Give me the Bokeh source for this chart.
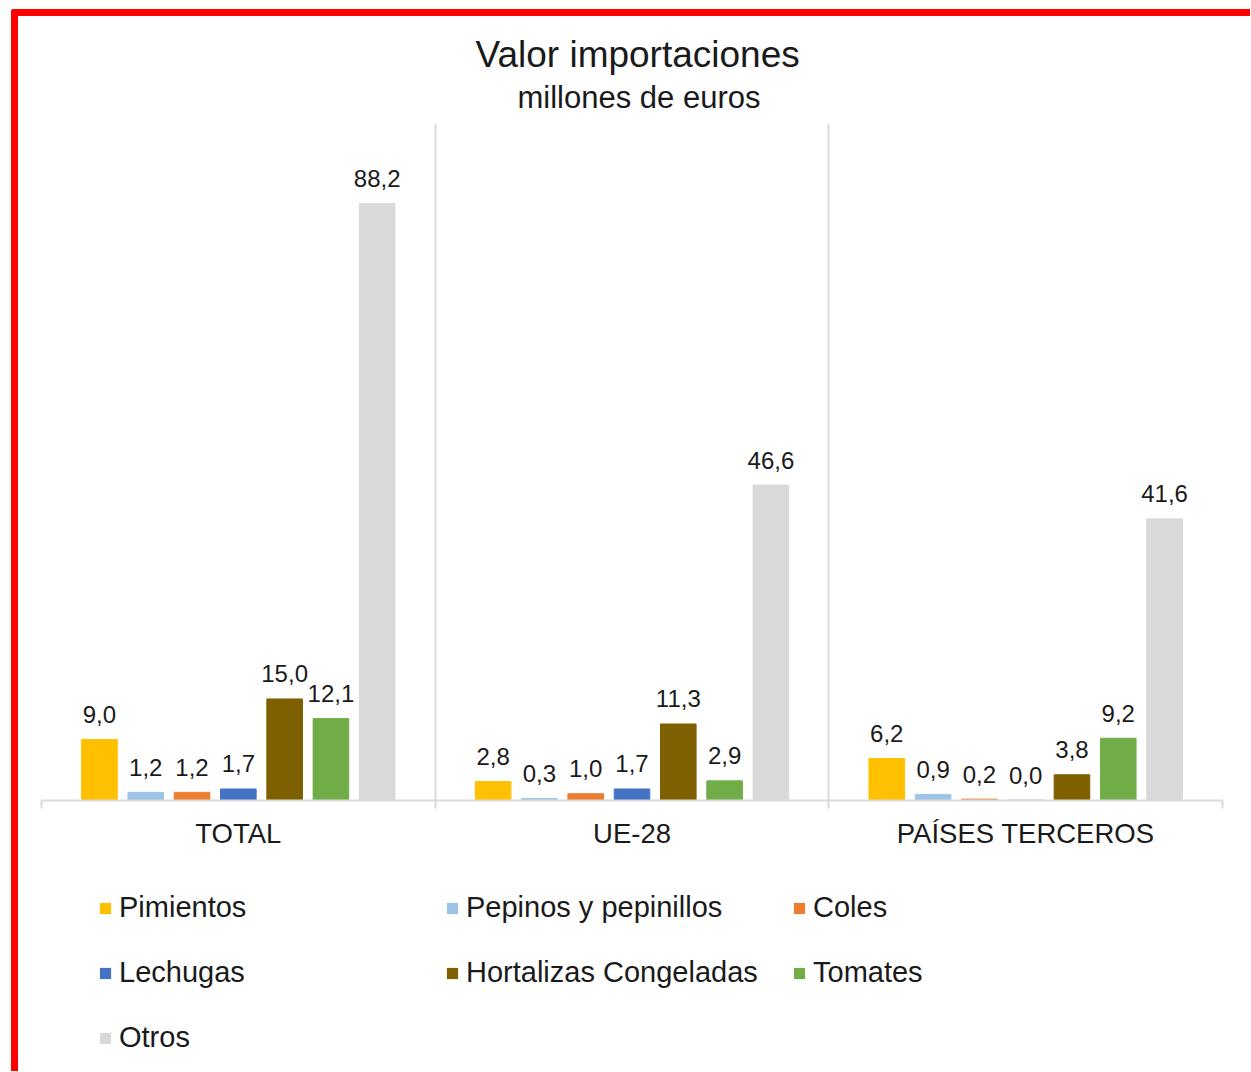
from bokeh.plotting import figure
from bokeh.layouts import column
from bokeh.models import ColumnDataSource, FixedTicker, Legend, LegendItem, Title
from bokeh.transform import dodge
from bokeh.core.properties import value
from bokeh.embed import file_html
from bokeh.resources import INLINE

# ---- data ----
groups = ["TOTAL", "UE-28", "PAÍSES TERCEROS"]
series = ["Pimientos", "Pepinos y pepinillos", "Coles", "Lechugas",
          "Hortalizas Congeladas", "Tomates", "Otros"]
pimientos = [9.0, 2.8, 6.2]
pepinos = [1.2, 0.3, 0.9]
coles = [1.2, 1.0, 0.2]
lechugas = [1.7, 1.7, 0.04]
hortalizas = [15.0, 11.3, 3.8]
tomates = [12.1, 2.9, 9.2]
otros = [88.2, 46.6, 41.6]
colors = ["#FFC000", "#9DC3E6", "#ED7D31", "#4472C4", "#7F6000", "#70AD47", "#D9D9D9"]

values = [pimientos, pepinos, coles, lechugas, hortalizas, tomates, otros]
centers = [i + 0.5 for i in range(len(groups))]
bounds = list(range(len(groups) + 1))

FONT = "Liberation Sans"
TXT = "#1a1a1a"
GRID = "#d9d9d9"

W, H1, H2 = 1232, 854, 201
p = figure(width=W, height=H1, title=None, x_range=(0, 3), y_range=(0, 100),
           output_backend="svg", toolbar_location=None,
           min_border_left=23, min_border_right=28, min_border_top=107,
           min_border_bottom=70)
p.outline_line_color = None
p.background_fill_color = "white"

step = 0.1176
bw = 0.0904
for i, (name, vals, col) in enumerate(zip(series, values, colors)):
    src = ColumnDataSource(dict(x=centers, top=vals,
                                lab=[f"{v:.1f}".replace(".", ",") for v in vals]))
    off = (i - 3) * step
    p.vbar(x=dodge("x", off), top="top", width=bw, bottom=0, source=src,
           fill_color=col, line_color=col, line_width=1)
    p.text(x=dodge("x", off), y="top", text="lab", source=src,
           text_align="center", text_baseline="alphabetic", y_offset=-25,
           text_font=value(FONT), text_font_size="24px", text_color=TXT)

# axes
p.yaxis.visible = False
p.ygrid.visible = False
ax = p.xaxis[0]
ax.ticker = FixedTicker(ticks=centers, minor_ticks=bounds)
ax.major_label_overrides = {c: g for c, g in zip(centers, groups)}
ax.major_tick_line_color = None
ax.minor_tick_line_color = GRID
ax.minor_tick_line_width = 2
ax.minor_tick_out = 8
ax.minor_tick_in = 0
ax.axis_line_color = GRID
ax.axis_line_width = 2
ax.major_label_text_font = FONT
ax.major_label_text_font_size = "27.5px"
ax.major_label_text_color = TXT
ax.major_label_standoff = 9

p.xgrid.ticker = FixedTicker(ticks=bounds)
p.xgrid.grid_line_color = GRID
p.xgrid.grid_line_width = 2

# titles
p.add_layout(Title(text="millones de euros", align="left", offset=476,
                   text_font=FONT, text_font_size="31px", text_font_style="normal",
                   text_color=TXT, standoff=17), "above")
p.add_layout(Title(text="Valor importaciones", align="left", offset=434,
                   text_font=FONT, text_font_size="37px", text_font_style="normal",
                   text_color=TXT, standoff=-11), "above")

# legend panel (swatches come from zero-size renderers)
pl = figure(width=W, height=H2, output_backend="svg", toolbar_location=None,
            x_axis_type=None, y_axis_type=None, min_border=0,
            x_range=(0, 1), y_range=(0, 1))
pl.outline_line_color = None
pl.grid.visible = False
items = []
for name, col in zip(series, colors):
    r = pl.vbar(x=[0.5], top=[0], bottom=0, width=0, fill_color=col, line_color=None)
    items.append(LegendItem(label=name, renderers=[r]))

legend = Legend(items=items, orientation="horizontal", ncols=3, location=(57, 17),
                glyph_width=14, glyph_height=14, label_standoff=7, spacing=32,
                label_width=294,
                label_text_font=FONT, label_text_font_size="29px", label_text_color=TXT,
                border_line_color=None, background_fill_alpha=0, padding=0, margin=0)
pl.add_layout(legend, "center")

layout = column(p, pl, spacing=0)
layout.styles = {"border-left": "7px solid red", "border-top": "7px solid red",
                 "border-top-left-radius": "3px", "margin": "9px 0 0 11px"}

open("out.html", "w").write(file_html(layout, INLINE))
